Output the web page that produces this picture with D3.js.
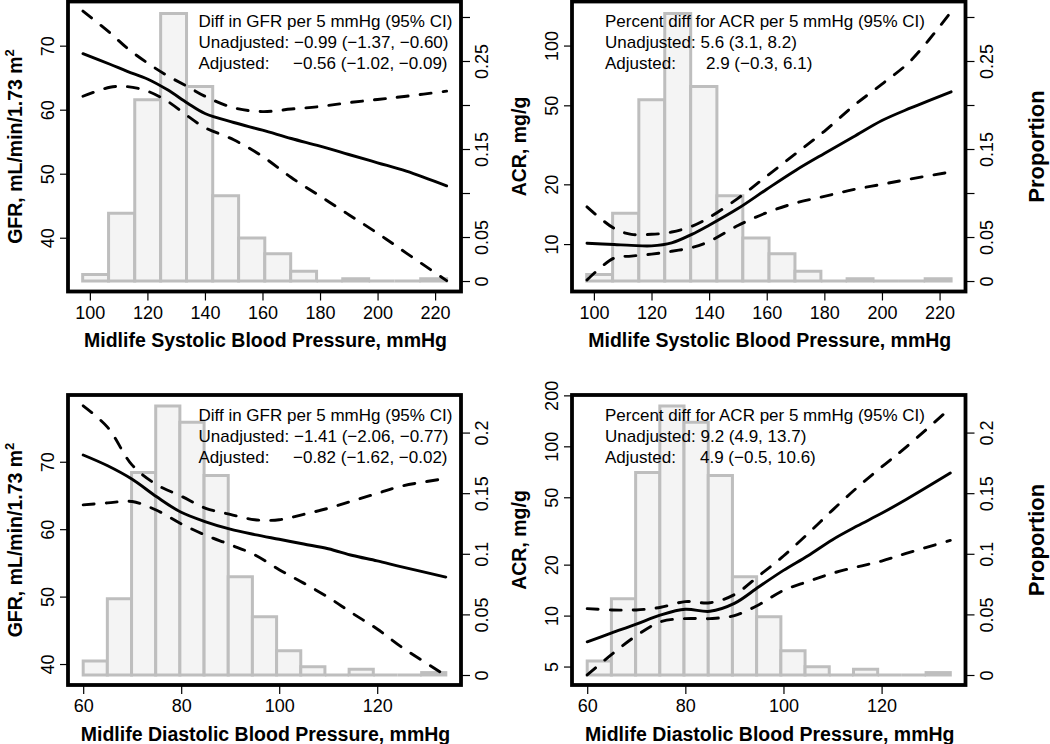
<!DOCTYPE html>
<html>
<head>
<meta charset="utf-8">
<script src="https://cdn.jsdelivr.net/npm/d3@7"></script>
<style>
  html, body { margin: 0; padding: 0; background: #fff; }
  svg { display: block; font-family: "Liberation Sans", Arial, sans-serif; }
</style>
</head>
<body>
<svg id="chart" width="1050" height="744"></svg>
<script>
// ---------------- DATA ----------------
const sbpGrid      = [97.6, 107, 113, 120, 127, 134, 140, 150, 160, 170, 180, 190, 200, 210, 224];
const gfrSbpFit    = [68.75, 67.1, 66.0, 64.8, 63.1, 61.0, 59.4, 58.0, 56.8, 55.5, 54.3, 53.0, 51.7, 50.4, 48.1];
const gfrSbpUpper  = [75.4, 72.0, 69.6, 67.3, 65.3, 63.6, 62.1, 60.3, 59.7, 60.1, 60.5, 61.1, 61.6, 62.1, 62.9];
const gfrSbpLower  = [62.1, 63.5, 63.6, 62.9, 61.3, 59.0, 57.2, 55.3, 52.7, 49.4, 46.5, 43.6, 40.7, 37.6, 33.3];
const acrSbpFit    = [10.1, 9.95, 9.85, 9.8, 10.15, 11.2, 12.45, 15.1, 18.9, 23.5, 28.6, 34.6, 41.9, 48.5, 58.5];
const acrSbpUpper  = [15.4, 12.0, 11.2, 11.2, 11.5, 12.3, 13.6, 17.0, 22.0, 28.5, 37.0, 49.5, 64.0, 84.0, 148];
const acrSbpLower  = [6.6, 8.5, 8.7, 8.9, 9.2, 9.6, 10.3, 12.4, 14.4, 16.1, 17.4, 18.8, 20.0, 21.3, 23.1];

const dbpGrid      = [60, 65, 70, 75, 80, 85, 90, 95, 100, 105, 110, 115, 120, 125, 134];
const gfrDbpFit    = [71.0, 69.4, 67.4, 64.8, 62.5, 61.1, 60.0, 59.2, 58.5, 57.8, 57.1, 56.1, 55.3, 54.4, 52.9];
const gfrDbpUpper  = [78.3, 75.1, 69.5, 66.6, 64.9, 63.1, 62.2, 61.4, 61.4, 62.2, 63.1, 64.2, 65.3, 66.4, 67.5];
const gfrDbpLower  = [63.6, 63.9, 64.1, 62.8, 60.8, 59.1, 57.7, 56.2, 54.0, 52.0, 49.9, 47.5, 45.2, 42.5, 38.3];
const acrDbpFit    = [7.0, 7.9, 8.9, 10.1, 10.9, 10.6, 11.8, 14.8, 18.5, 22.6, 28.1, 33.8, 40.2, 48.5, 69.5];
const acrDbpUpper  = [11.0, 10.8, 10.8, 11.2, 12.1, 11.9, 13.3, 17.2, 22.5, 30.5, 42.0, 57.0, 75.5, 99.0, 168];
const acrDbpLower  = [4.46, 5.9, 7.6, 9.2, 9.6, 9.6, 10.0, 11.6, 14.1, 15.9, 17.8, 19.4, 21.0, 23.3, 27.8];

const sbpBinEdges  = [97.5, 106.5, 115.6, 124.6, 133.6, 142.7, 151.7, 160.8, 169.8, 178.8, 187.9, 196.9, 205.9, 215.0, 224.0];
const sbpBinProp   = [0.0075, 0.077, 0.206, 0.304, 0.221, 0.097, 0.049, 0.031, 0.011, 0, 0.0026, 0, 0, 0.0026];
const dbpBinEdges  = [60, 64.93, 69.87, 74.8, 79.73, 84.67, 89.6, 94.53, 99.47, 104.4, 109.33, 114.27, 119.2, 124.13, 129.07, 134];
const dbpBinProp   = [0.0116, 0.063, 0.167, 0.222, 0.2085, 0.1645, 0.081, 0.048, 0.020, 0.0069, 0, 0.0047, 0, 0, 0.002];

const sbpTicks     = [100, 120, 140, 160, 180, 200, 220];
const dbpTicks     = [60, 80, 100, 120];
const gfrTicks     = [40, 50, 60, 70];
const acrSbpTicks  = [10, 20, 50, 100];
const acrDbpTicks  = [5, 10, 20, 50, 100, 200];
const propSbpTicks = [0, 0.05, 0.1, 0.15, 0.2, 0.25, 0.3];
const propSbpLabels= ["0", "0.05", "", "0.15", "", "0.25", ""];
const propDbpTicks = [0, 0.05, 0.1, 0.15, 0.2];
const propDbpLabels= ["0", "0.05", "0.1", "0.15", "0.2"];

const sbpTitle = "Midlife Systolic Blood Pressure, mmHg";
const dbpTitle = "Midlife Diastolic Blood Pressure, mmHg";
const gfrTitle = ["GFR, mL/min/1.73 m", "2"];
const acrTitle = ["ACR, mg/g", ""];
const propTitle = "Proportion";

const notes1 = ["Diff in GFR per 5 mmHg (95% CI)", "Unadjusted: \u22120.99 (\u22121.37, \u22120.60)", "Adjusted: ", "\u22120.56 (\u22121.02, \u22120.09)"];
const notes2 = ["Percent diff for ACR per 5 mmHg (95% CI)", "Unadjusted: 5.6 (3.1, 8.2)", "Adjusted: ", "2.9 (\u22120.3, 6.1)"];
const notes3 = ["Diff in GFR per 5 mmHg (95% CI)", "Unadjusted: \u22121.41 (\u22122.06, \u22120.77)", "Adjusted: ", "\u22120.82 (\u22121.62, \u22120.02)"];
const notes4 = ["Percent diff for ACR per 5 mmHg (95% CI)", "Unadjusted: 9.2 (4.9, 13.7)", "Adjusted: ", "4.9 (\u22120.5, 10.6)"];

// ---------------- LAYOUT ----------------
const panels = [
  { box:[68, 461, 1.5, 291.5], xDom:[92.4, 229], yDom:[31.6, 76.9], log:false, rDom:[-0.0119, 0.3176],
    grid:sbpGrid, fit:gfrSbpFit, up:gfrSbpUpper, lo:gfrSbpLower, edges:sbpBinEdges, prop:sbpBinProp,
    xTicks:sbpTicks, yTicks:gfrTicks, rTicks:propSbpTicks, rLabels:propSbpLabels,
    xTitle:sbpTitle, yTitle:gfrTitle, notes:notes1, noteX:198.5, adjValX:293, propLabel:false },
  { box:[572, 965.5, 1.5, 291.5], xDom:[92.4, 229], yDom:[5.77, 166.7], log:true, rDom:[-0.0119, 0.3176],
    grid:sbpGrid, fit:acrSbpFit, up:acrSbpUpper, lo:acrSbpLower, edges:sbpBinEdges, prop:sbpBinProp,
    xTicks:sbpTicks, yTicks:acrSbpTicks, rTicks:propSbpTicks, rLabels:propSbpLabels,
    xTitle:sbpTitle, yTitle:acrTitle, notes:notes2, noteX:605, adjValX:706, propLabel:true },
  { box:[68, 461, 395, 685], xDom:[56.9, 137.1], yDom:[36.89, 79.9], log:false, rDom:[-0.00825, 0.231],
    grid:dbpGrid, fit:gfrDbpFit, up:gfrDbpUpper, lo:gfrDbpLower, edges:dbpBinEdges, prop:dbpBinProp,
    xTicks:dbpTicks, yTicks:gfrTicks, rTicks:propDbpTicks, rLabels:propDbpLabels,
    xTitle:dbpTitle, yTitle:gfrTitle, notes:notes3, noteX:198.5, adjValX:293, propLabel:false },
  { box:[572, 965.5, 395, 685], xDom:[56.9, 137.1], yDom:[3.89, 201], log:true, rDom:[-0.00825, 0.231],
    grid:dbpGrid, fit:acrDbpFit, up:acrDbpUpper, lo:acrDbpLower, edges:dbpBinEdges, prop:dbpBinProp,
    xTicks:dbpTicks, yTicks:acrDbpTicks, rTicks:propDbpTicks, rLabels:propDbpLabels,
    xTitle:dbpTitle, yTitle:acrTitle, notes:notes4, noteX:605, adjValX:700, propLabel:true }
];

const svg = d3.select("#chart");

panels.forEach(p => {
  const [x0, x1, y0, y1] = p.box;
  const g = svg.append("g");
  const x = d3.scaleLinear().domain(p.xDom).range([x0, x1]);
  const y = (p.log ? d3.scaleLog() : d3.scaleLinear()).domain(p.yDom).range([y1, y0]);
  const yr = d3.scaleLinear().domain(p.rDom).range([y1, y0]);

  // histogram bars
  const bars = p.prop.map((v, i) => ({ a: p.edges[i], b: p.edges[i + 1], v }));
  g.selectAll("path.bar").data(bars).enter().append("path")
    .attr("class", "bar")
    .attr("d", d => `M${x(d.a)},${yr(0)}V${yr(d.v)}H${x(d.b)}V${yr(0)}Z`)
    .attr("fill", "#f4f4f4")
    .attr("stroke", "#bebebe")
    .attr("stroke-width", 3)
    .attr("stroke-linejoin", "miter");

  // curves
  const line = d3.line().x(d => x(d[0])).y(d => y(d[1])).curve(d3.curveCatmullRom.alpha(0.5));
  [[p.up, "11,12"], [p.lo, "11,12"], [p.fit, null]].forEach(([vals, dash]) => {
    g.append("path")
      .attr("d", line(p.grid.map((gx, i) => [gx, vals[i]])))
      .attr("fill", "none")
      .attr("stroke", "#000")
      .attr("stroke-width", 2.9)
      .attr("stroke-dasharray", dash)
      .attr("stroke-linecap", "round");
  });

  // axes
  const tickStyle = sel => {
    sel.select(".domain").remove();
    sel.selectAll(".tick line").attr("stroke", "#000").attr("stroke-width", 1.2);
    sel.selectAll(".tick text").attr("fill", "#000").attr("font-size", 18)
      .attr("font-family", '"Liberation Sans", Arial, sans-serif');
  };
  g.append("g").attr("transform", `translate(0,${y1})`)
    .call(d3.axisBottom(x).tickValues(p.xTicks).tickSize(9).tickPadding(5).tickFormat(d3.format("d")))
    .call(tickStyle)
    .call(s => s.selectAll(".tick text").attr("dy", null).attr("y", 21).attr("dominant-baseline", "central"));

  g.append("g").attr("transform", `translate(${x0},0)`)
    .call(d3.axisLeft(y).tickValues(p.yTicks).tickSize(8).tickFormat(d3.format("d")))
    .call(tickStyle)
    .call(s => s.selectAll(".tick text")
      .attr("x", null).attr("dy", null).attr("text-anchor", "middle").attr("dominant-baseline", "central")
      .attr("transform", "translate(-20.5,0) rotate(-90)"));

  g.append("g").attr("transform", `translate(${x1},0)`)
    .call(d3.axisRight(yr).tickValues(p.rTicks).tickSize(9).tickFormat((d, i) => p.rLabels[i]))
    .call(tickStyle)
    .call(s => s.selectAll(".tick text")
      .attr("x", null).attr("dy", null).attr("text-anchor", "middle").attr("dominant-baseline", "central")
      .attr("transform", "translate(21,0) rotate(-90)"));

  // box
  g.append("rect").attr("x", x0).attr("y", y0).attr("width", x1 - x0).attr("height", y1 - y0)
    .attr("fill", "none").attr("stroke", "#000").attr("stroke-width", 3.8);

  // titles
  g.append("text").attr("x", (x0 + x1) / 2 + 1).attr("y", y1 + 48.5)
    .attr("text-anchor", "middle").attr("dominant-baseline", "central")
    .attr("font-size", 19.5).attr("font-weight", "bold").text(p.xTitle);

  const yt = g.append("text")
    .attr("transform", `translate(${x0 - 53},${(y0 + y1) / 2}) rotate(-90)`)
    .attr("text-anchor", "middle").attr("dominant-baseline", "central")
    .attr("font-size", 19.5).attr("font-weight", "bold");
  yt.append("tspan").text(p.yTitle[0]);
  if (p.yTitle[1]) yt.append("tspan").attr("font-size", 13).attr("dy", -6.5).text(p.yTitle[1]);

  if (p.propLabel) {
    g.append("text")
      .attr("transform", `translate(${x1 + 71},${(y0 + y1) / 2}) rotate(-90)`)
      .attr("text-anchor", "middle").attr("dominant-baseline", "central")
      .attr("font-size", 22).attr("font-weight", "bold").text(propTitle);
  }

  // annotation
  const nt = g.append("g").attr("font-size", 17).attr("fill", "#000");
  nt.append("text").attr("x", p.noteX).attr("y", y0 + 25.5).text(p.notes[0]);
  nt.append("text").attr("x", p.noteX).attr("y", y0 + 46.5).text(p.notes[1]);
  nt.append("text").attr("x", p.noteX).attr("y", y0 + 67.5).text(p.notes[2]);
  nt.append("text").attr("x", p.adjValX).attr("y", y0 + 67.5).text(p.notes[3]);
});
</script>
</body>
</html>
